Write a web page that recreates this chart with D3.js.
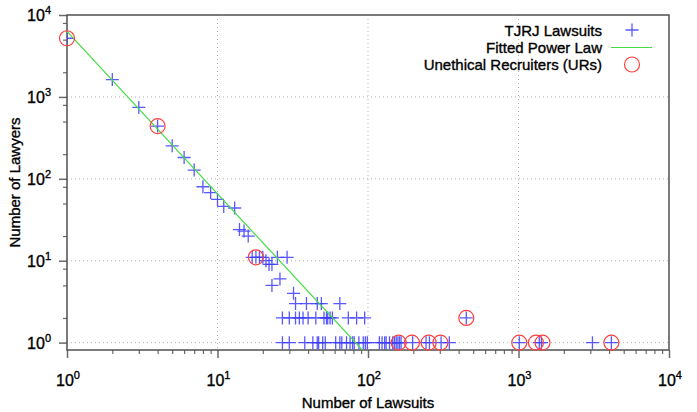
<!DOCTYPE html>
<html><head><meta charset="utf-8">
<script src="https://cdn.jsdelivr.net/npm/d3@7"></script>
<style>
html,body{margin:0;padding:0;background:#fff;}
svg{display:block;font-family:"Liberation Sans",Arial,sans-serif;}
text{stroke:#000;stroke-width:0.35px;}
</style></head>
<body>
<svg id="chart" width="697" height="412"></svg>
<script>
// ---- data ----
const lawsuitX = [1,2,3,4,5,6,7,8,9,10,11,13,14,15,16,
  17,18,19,20,21,22,23,25,29,23,26,32,
  33,39,46,49,65,
  27,30,33,35,37,40,45,51,53,54,56,58,74,84,95,450,
  27,30,38,43,46,47,50,52,61,65,67,72,76,79,81,87,93,96,99,
  119,124,129,132,139,146,150,154,158,162,166,198,243,256,306,347,1012,1374,1420,3100,4140];
const lawyerY = [5200,1630,743,440,253,182,128,80,68,56,46,44,24,23,20,
  11,11,11,11,10,9,9,11,11,5,6,4,
  3,3,3,3,3,
  2,2,2,2,2,2,2,2,2,2,2,2,2,2,2,2,
  1,1,1,1,1,1,1,1,1,1,1,1,1,1,1,1,1,1,1,
  1,1,1,1,1,1,1,1,1,1,1,1,1,1,1,1,1,1,1,1,1];
const urX = [1,4,18,450,160,196,253,303,1012,1305,1444,4140];
const urY = [5200,440,11,2,1,1,1,1,1,1,1,1];
const fitX = [1, 92.5];
const fitY = [6300, 0.8];
const xTickExp = [0,1,2,3,4];
const yTickExp = [0,1,2,3,4];
const legendLabels = ["TJRJ Lawsuits","Fitted Power Law","Unethical Recruiters (URs)"];
const xTitle = "Number of Lawsuits";
const yTitle = "Number of Lawyers";

// ---- layout ----
const L = 67, R = 669, T = 15, B = 350;
const svg = d3.select("#chart");
const x = d3.scaleLog().domain([1, 1e4]).range([L, R]);
const y = d3.scaleLog().domain([Math.pow(10,-0.09), 1e4]).range([B, T]);

svg.append("defs").append("clipPath").attr("id","clip")
  .append("rect").attr("x",L).attr("y",T).attr("width",R-L).attr("height",B-T);

// grid
const grid = svg.append("g").attr("stroke","#b4b4b4").attr("stroke-width",1).attr("stroke-dasharray","1,3");
[1,2,3].forEach(e=>{
  grid.append("line").attr("x1",x(Math.pow(10,e))).attr("x2",x(Math.pow(10,e))).attr("y1",T).attr("y2",B);
});
[0,1,2,3].forEach(e=>{
  grid.append("line").attr("x1",L).attr("x2",R).attr("y1",y(Math.pow(10,e))).attr("y2",y(Math.pow(10,e)));
});

// axes ticks
const tickCol = "#6a6a6a";
const xMinor = [];
for (let e=0;e<4;e++) for (let k=2;k<=9;k++) xMinor.push(k*Math.pow(10,e));
const yMinor = [];
for (let e=-1;e<4;e++) [2,5,8].forEach(k=>{const v=k*Math.pow(10,e); if(v>y.domain()[0] && v<1e4) yMinor.push(v);});

const xAxis = d3.axisBottom(x).tickValues(xMinor).tickSize(4).tickFormat("");
svg.append("g").attr("transform",`translate(0,${B})`).call(xAxis)
  .call(g=>{g.select(".domain").remove(); g.selectAll("line").attr("stroke",tickCol).attr("stroke-width",1.2);});
const xMajor = d3.axisBottom(x).tickValues(xTickExp.map(e=>Math.pow(10,e))).tickSize(8).tickFormat("");
svg.append("g").attr("transform",`translate(0,${B})`).call(xMajor)
  .call(g=>{g.select(".domain").remove(); g.selectAll("line").attr("stroke",tickCol).attr("stroke-width",1.5);});

const yAxis = d3.axisLeft(y).tickValues(yMinor).tickSize(4).tickFormat("");
svg.append("g").attr("transform",`translate(${L},0)`).call(yAxis)
  .call(g=>{g.select(".domain").remove(); g.selectAll("line").attr("stroke",tickCol).attr("stroke-width",1.2);});
const yMajor = d3.axisLeft(y).tickValues(yTickExp.map(e=>Math.pow(10,e))).tickSize(8).tickFormat("");
svg.append("g").attr("transform",`translate(${L},0)`).call(yMajor)
  .call(g=>{g.select(".domain").remove(); g.selectAll("line").attr("stroke",tickCol).attr("stroke-width",1.5);});

// frame
svg.append("rect").attr("x",L).attr("y",T).attr("width",R-L).attr("height",B-T)
  .attr("fill","none").attr("stroke","#505050").attr("stroke-width",1.5);

// tick labels
function powLabel(sel, e){
  sel.append("tspan").text("10");
  sel.append("tspan").attr("dy",-7).attr("font-size",11).text(String(e));
}
xTickExp.forEach(e=>{
  const t = svg.append("text").attr("x",x(Math.pow(10,e))+1).attr("y",386)
    .attr("text-anchor","middle").attr("font-size",16).attr("fill","#000");
  powLabel(t,e);
});
yTickExp.forEach(e=>{
  const t = svg.append("text").attr("x",51).attr("y",y(Math.pow(10,e))+6)
    .attr("text-anchor","end").attr("font-size",16).attr("fill","#000");
  powLabel(t,e);
});

// titles
svg.append("text").attr("x",(L+R)/2).attr("y",408).attr("text-anchor","middle")
  .attr("font-size",15).attr("fill","#000").text(xTitle);
svg.append("text").attr("transform",`translate(20,${(T+B)/2}) rotate(-90)`).attr("text-anchor","middle")
  .attr("font-size",15).attr("fill","#000").text(yTitle);

// data layer
const plot = svg.append("g").attr("clip-path","url(#clip)");
const blue = "rgb(60,60,255)";
const cs = 6.5;
function cross(g, cx, cy){
  g.append("path").attr("d",`M${cx-cs},${cy}H${cx+cs}M${cx},${cy-cs}V${cy+cs}`)
    .attr("stroke",blue).attr("stroke-width",1.3).attr("stroke-opacity",0.85).attr("fill","none");
}
lawsuitX.forEach((v,i)=>cross(plot, x(v), y(lawyerY[i])));

const fitLine = d3.line().x(d=>x(d[0])).y(d=>y(d[1]));
plot.append("path").attr("d",fitLine(fitX.map((v,i)=>[v,fitY[i]])))
  .attr("stroke","#44dd44").attr("stroke-width",1.2).attr("fill","none");

const red = "#ff4040";
urX.forEach((v,i)=>{
  svg.append("circle").attr("cx",x(v)).attr("cy",y(urY[i])).attr("r",7.5)
    .attr("fill","none").attr("stroke",red).attr("stroke-width",1.2);
});

// legend
const lg = svg.append("g").attr("font-size",15).attr("fill","#000");
const rowY = [30, 47.5, 64.5];
legendLabels.forEach((t,i)=>{
  lg.append("text").attr("x",602).attr("y",rowY[i]+5.5).attr("text-anchor","end").text(t);
});
cross(svg, 632, rowY[0]);
svg.append("line").attr("x1",611).attr("x2",652).attr("y1",rowY[1]).attr("y2",rowY[1])
  .attr("stroke","#44dd44").attr("stroke-width",1.2);
svg.append("circle").attr("cx",632).attr("cy",rowY[2]).attr("r",7.5)
  .attr("fill","none").attr("stroke",red).attr("stroke-width",1.2);
</script>
</body></html>
